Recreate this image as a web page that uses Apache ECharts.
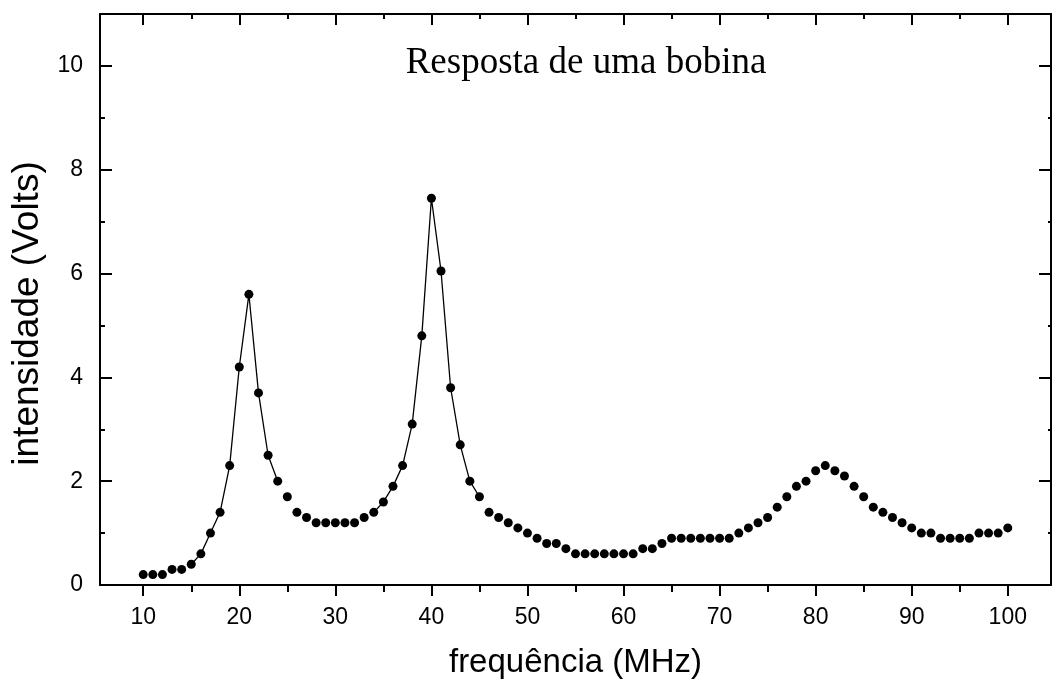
<!DOCTYPE html>
<html>
<head>
<meta charset="utf-8">
<script src="https://cdn.jsdelivr.net/npm/echarts@6/dist/echarts.min.js"></script>
<style>
html,body{margin:0;padding:0;background:#fff;}
#chart{width:1053px;height:684px;}
</style>
</head>
<body>
<div id="chart"></div>
<script>
// ---- data ----
const frequencia = [10,11,12,13,14,15,16,17,18,19,20,21,22,23,24,25,26,27,28,29,30,31,32,33,34,35,36,37,38,39,40,41,42,43,44,45,46,47,48,49,50,51,52,53,54,55,56,57,58,59,60,61,62,63,64,65,66,67,68,69,70,71,72,73,74,75,76,77,78,79,80,81,82,83,84,85,86,87,88,89,90,91,92,93,94,95,96,97,98,99,100];
const intensidade = [0.2,0.2,0.2,0.3,0.3,0.4,0.6,1.0,1.4,2.3,4.2,5.6,3.7,2.5,2.0,1.7,1.4,1.3,1.2,1.2,1.2,1.2,1.2,1.3,1.4,1.6,1.9,2.3,3.1,4.8,7.45,6.05,3.8,2.7,2.0,1.7,1.4,1.3,1.2,1.1,1.0,0.9,0.8,0.8,0.7,0.6,0.6,0.6,0.6,0.6,0.6,0.6,0.7,0.7,0.8,0.9,0.9,0.9,0.9,0.9,0.9,0.9,1.0,1.1,1.2,1.3,1.5,1.7,1.9,2.0,2.2,2.3,2.2,2.1,1.9,1.7,1.5,1.4,1.3,1.2,1.1,1.0,1.0,0.9,0.9,0.9,0.9,1.0,1.0,1.0,1.1];
// frequency ranges where the connecting line is visible
const lineRanges = [[15,24],[34,45]];
const xMajorTicks = [10,20,30,40,50,60,70,80,90,100];
const xMinorTicks = [15,25,35,45,55,65,75,85,95];
const yMajorTicks = [0,2,4,6,8,10];
const yMinorTicks = [1,3,5,7,9];
const titleText = 'Resposta de uma bobina';
const xName = 'frequência (MHz)';
const yName = 'intensidade (Volts)';

// ---- build series data ----
const points = frequencia.map((f,i)=>[f,intensidade[i]]);
const lineData = frequencia.map((f,i)=>{
  const inRange = lineRanges.some(r=>f>=r[0]&&f<=r[1]);
  return inRange ? [f,intensidade[i]] : [f,null];
});

const black = '#000';
const tickFont = {fontFamily:"'Liberation Sans Narrow','Liberation Sans',sans-serif", fontSize:23, color:black};

function xAxisDef(pos, ticks, len, inside, showLine, showLabel, extra){
  return Object.assign({
    type:'value', min:5.5, max:104.5, position:pos, gridIndex:0,
    axisLine:{show:showLine, onZero:false, lineStyle:{color:black,width:2}},
    axisTick:{show:true, inside:inside, length:len, customValues:ticks, lineStyle:{color:black,width:2}},
    axisLabel:Object.assign({show:showLabel, customValues:ticks, margin:21}, tickFont),
    splitLine:{show:false}
  }, extra||{});
}
function yAxisDef(pos, ticks, len, inside, showLine, showLabel, extra){
  return Object.assign({
    type:'value', min:0, max:11, position:pos, gridIndex:0,
    axisLine:{show:showLine, onZero:false, lineStyle:{color:black,width:2}},
    axisTick:{show:true, inside:inside, length:len, customValues:ticks, lineStyle:{color:black,width:2}},
    axisLabel:Object.assign({show:showLabel, customValues:ticks, margin:17}, tickFont),
    splitLine:{show:false}
  }, extra||{});
}

const option = {
  backgroundColor:'#fff',
  animation:false,
  title:{
    text:titleText, left:581, top:40, textAlign:'center',
    textStyle:{fontFamily:"'Liberation Serif','DejaVu Serif',serif", fontSize:37, fontWeight:'normal', color:black}
  },
  grid:{left:100, right:2, top:14, bottom:97, containLabel:false},
  xAxis:[
    xAxisDef('bottom', xMajorTicks, 11, false, true, true, {
      name:xName, nameLocation:'middle', nameGap:61,
      nameTextStyle:{fontFamily:"'Liberation Sans',Arial,sans-serif", fontSize:33, color:black}
    }),
    xAxisDef('bottom', xMinorTicks, 7, false, false, false),
    xAxisDef('top', xMajorTicks, 11, true, true, false),
    xAxisDef('top', xMinorTicks, 5, true, false, false)
  ],
  yAxis:[
    yAxisDef('left', yMajorTicks, 12, true, true, true, {
      name:yName, nameLocation:'middle', nameGap:54,
      nameTextStyle:{fontFamily:"'Liberation Sans',Arial,sans-serif", fontSize:37, color:black, padding:[0,28,0,0]}
    }),
    yAxisDef('left', yMinorTicks, 5, true, false, false),
    yAxisDef('right', yMajorTicks, 12, true, true, false),
    yAxisDef('right', yMinorTicks, 3, true, false, false)
  ],
  series:[
    {type:'line', xAxisIndex:0, yAxisIndex:0, data:lineData, showSymbol:false, connectNulls:false,
     lineStyle:{color:black, width:1.3}, z:2},
    {type:'scatter', xAxisIndex:0, yAxisIndex:0, data:points, symbol:'circle', symbolSize:9,
     itemStyle:{color:black, opacity:1}, z:3}
  ]
};
const chart = echarts.init(document.getElementById('chart'), null, {renderer:'canvas'});
chart.setOption(option);
</script>
</body>
</html>
